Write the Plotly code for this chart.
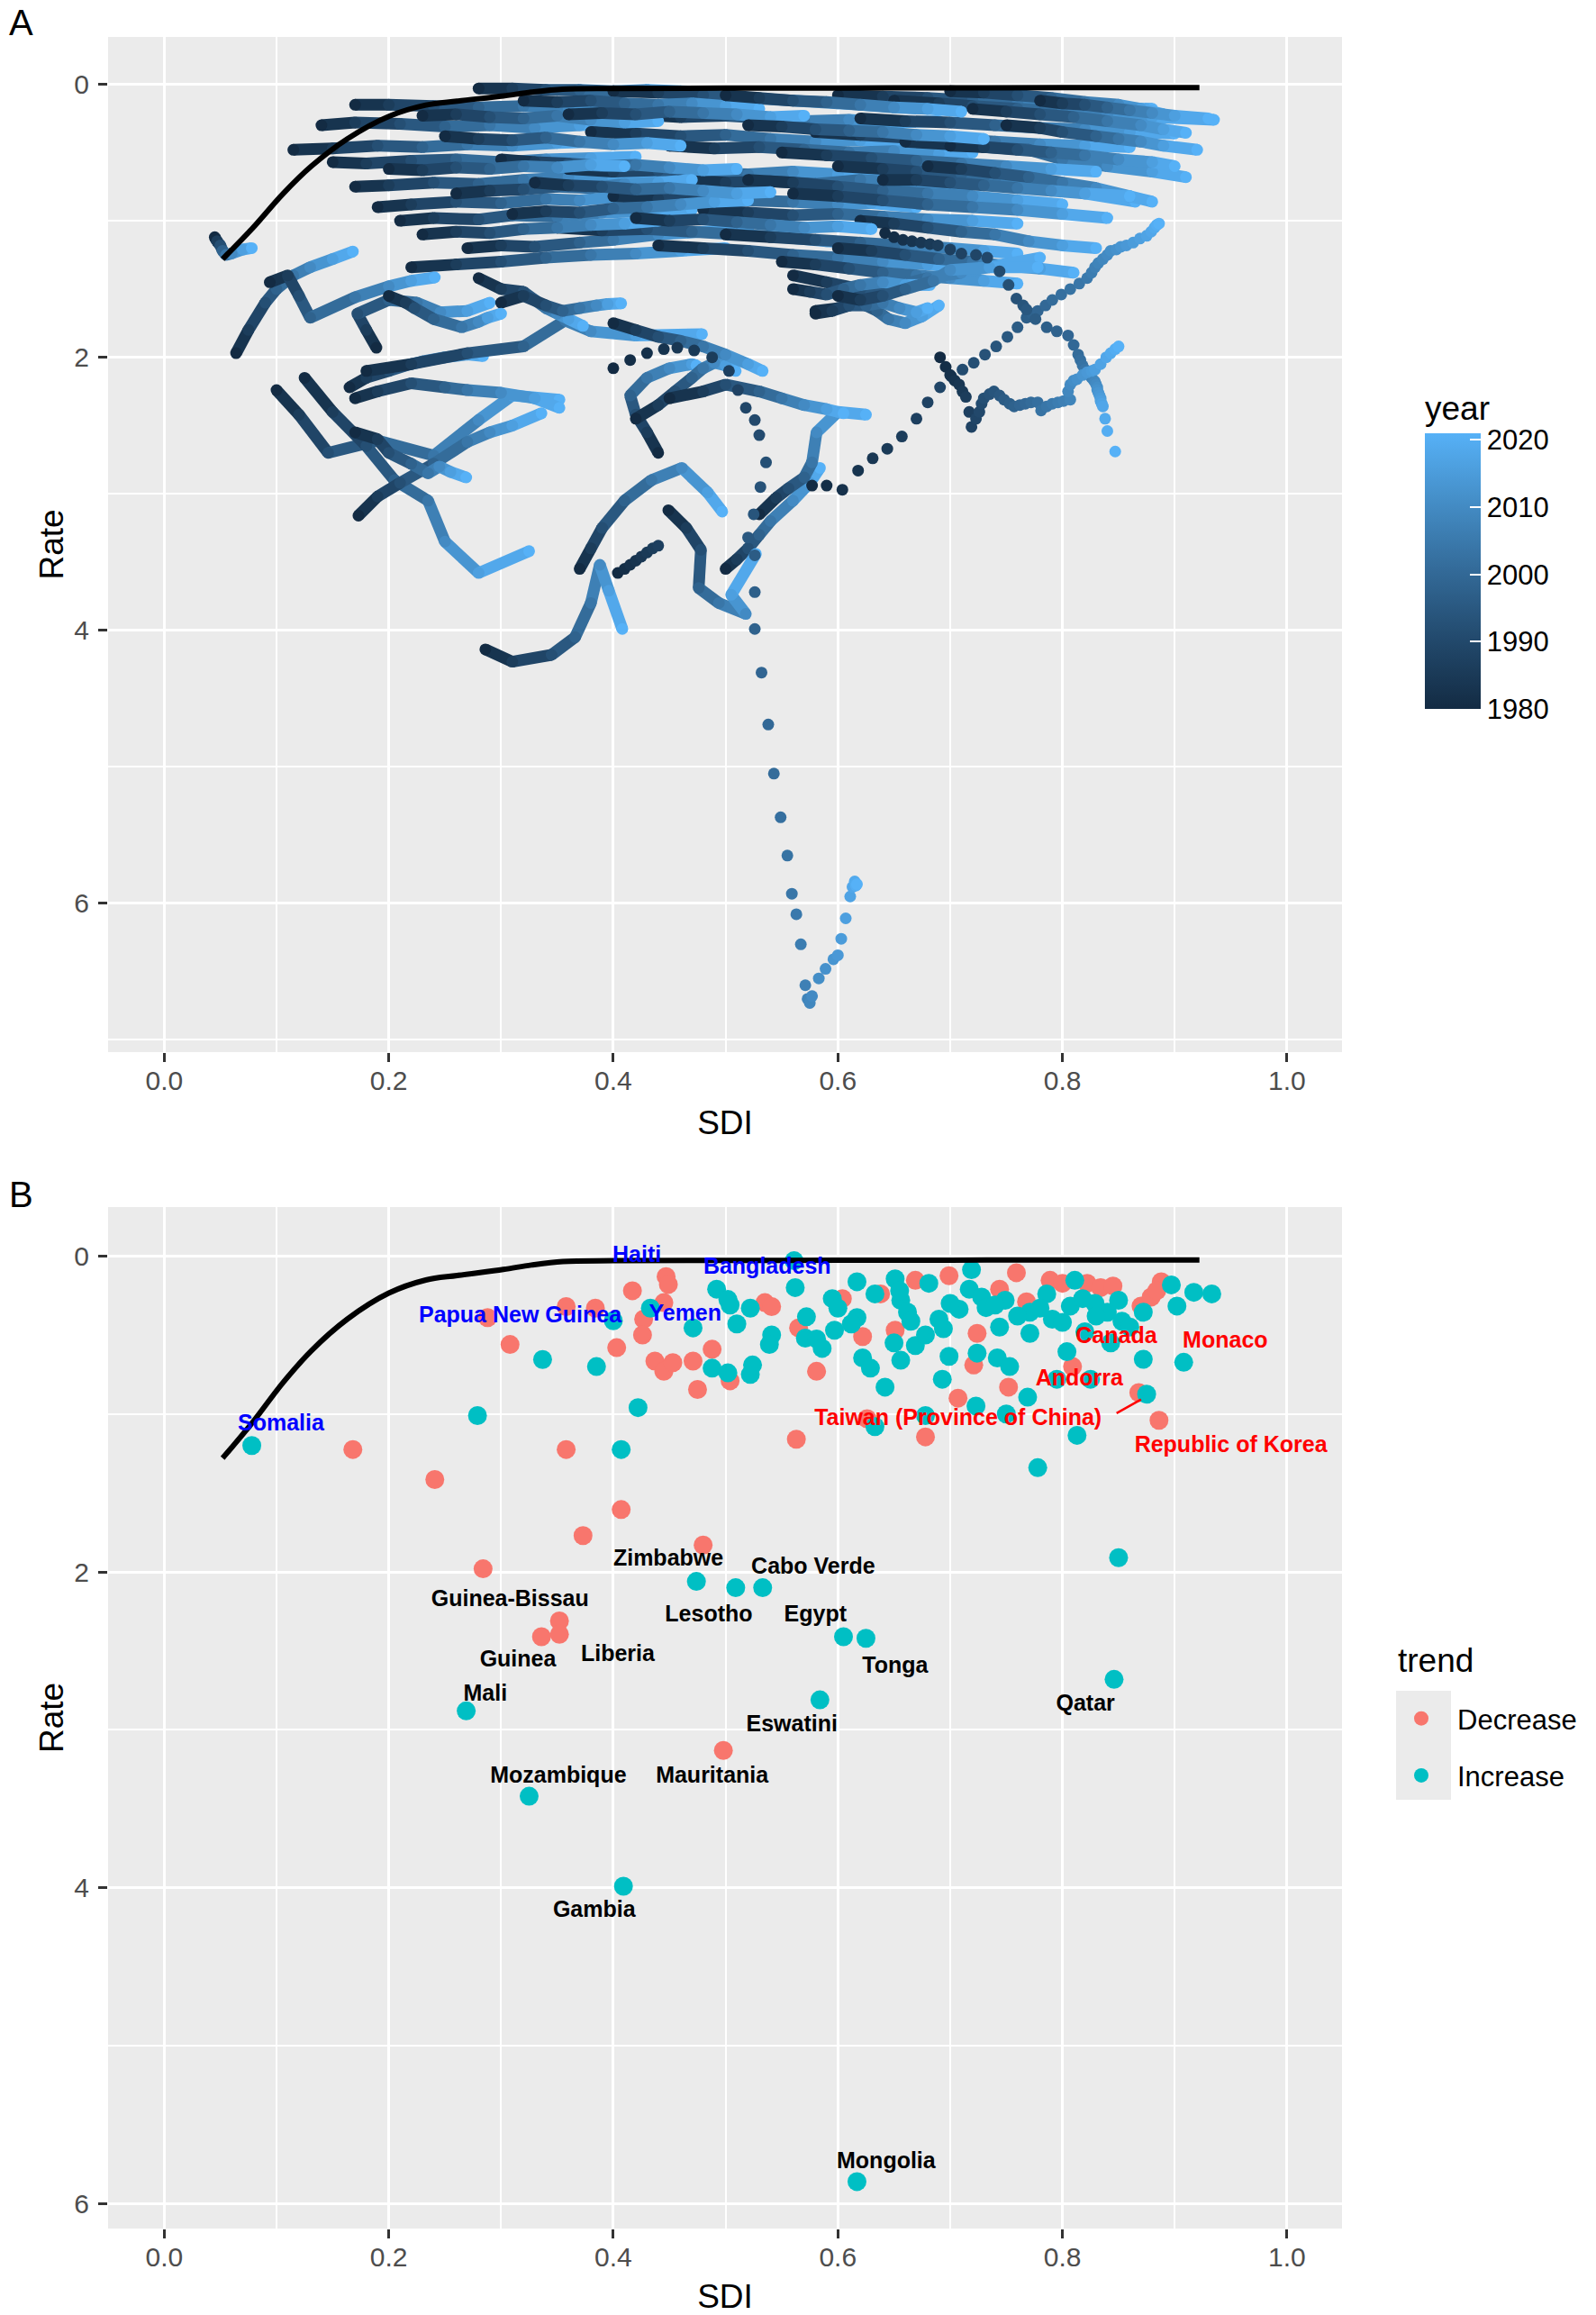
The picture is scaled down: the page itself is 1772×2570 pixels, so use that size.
import plotly.graph_objects as go
from plotly.colors import sample_colorscale

FONT = "Liberation Sans, Arial, sans-serif"

# ---------------- panel A : SDI / rate trajectories, 1980-2021 ----------------
KEY_YEARS = [1980, 1986, 1992, 1998, 2004, 2010, 2016, 2021]

# trajectories read at the key years (dense ones, drawn as a ribbon)
LINE_SDI = [
    [.28, .31, .34, .37, .40, .43, .46, .49],
    [.17, .20, .24, .28, .32, .36, .40, .45],
    [.14, .17, .21, .25, .29, .33, .37, .41],
    [.115, .15, .19, .23, .27, .31, .35, .39],
    [.15, .18, .22, .26, .30, .34, .38, .42],
    [.17, .20, .24, .28, .32, .36, .40, .44],
    [.19, .22, .26, .30, .34, .37, .41, .45],
    [.21, .24, .28, .31, .35, .39, .43, .47],
    [.22, .26, .30, .34, .38, .42, .46, .50],
    [.27, .30, .33, .37, .40, .44, .48, .52],
    [.40, .44, .48, .52, .56, .60, .64, .68],
    [.42, .46, .50, .54, .57, .61, .65, .69],
    [.38, .42, .46, .50, .54, .58, .62, .66],
    [.45, .49, .53, .57, .61, .65, .69, .72],
    [.36, .40, .44, .48, .52, .56, .60, .64],
    [.46, .50, .54, .58, .62, .66, .70, .74],
    [.40, .44, .48, .52, .56, .60, .63, .67],
    [.48, .52, .56, .60, .64, .68, .72, .76],
    [.35, .39, .43, .47, .51, .55, .59, .62],
    [.50, .54, .58, .62, .66, .70, .73, .76],
    [.60, .64, .68, .72, .76, .80, .84, .88],
    [.65, .69, .72, .76, .80, .84, .88, .935],
    [.62, .66, .70, .74, .78, .82, .86, .90],
    [.58, .62, .66, .70, .74, .78, .82, .86],
    [.66, .70, .73, .77, .80, .84, .88, .91],
    [.55, .59, .63, .67, .71, .75, .79, .83],
    [.60, .64, .67, .71, .74, .78, .82, .865],
    [.52, .56, .60, .64, .68, .72, .76, .80],
    [.56, .60, .64, .68, .72, .76, .80, .84],
    [.70, .73, .76, .79, .82, .85, .87, .89],
    [.72, .75, .78, .81, .84, .87, .89, .91],
    [.44, .48, .52, .56, .60, .64, .68, .72],
    [.62, .65, .68, .71, .74, .77, .80, .83],
    [.55, .58, .61, .64, .67, .70, .73, .76],
    [.30, .33, .36, .39, .42, .45, .48, .51],
    [.25, .28, .31, .34, .37, .40, .43, .46],
    [.23, .26, .29, .32, .35, .38, .41, .44],
    [.32, .35, .38, .41, .44, .47, .50, .53],
    [.50, .53, .56, .59, .62, .65, .68, .71],
    [.26, .29, .32, .35, .38, .41, .44, .47],
    [.31, .34, .37, .40, .43, .46, .49, .52],
    [.68, .71, .74, .77, .80, .83, .86, .88],
    [.75, .78, .80, .83, .85, .87, .89, .92],
    [.78, .80, .82, .84, .86, .88, .90, .93],
    [.60, .63, .66, .69, .72, .75, .78, .81],
    [.58, .60, .62, .635, .645, .66, .675, .69],
    [.56, .59, .62, .65, .68, .71, .74, .78],
    [.20, .23, .26, .29, .32, .35, .38, .41],
    [.23, .26, .29, .32, .35, .38, .41, .44],
    [.64, .67, .70, .73, .76, .79, .82, .86],
    [.70, .73, .76, .79, .82, .85, .88, .90],
    [.36, .39, .42, .45, .48, .51, .54, .57],
    [.52, .55, .58, .61, .64, .67, .70, .73],
    [.42, .45, .48, .51, .54, .57, .60, .63],
    [.33, .36, .39, .42, .45, .48, .51, .54],
    # lower, sparser countries
    [.045, .047, .05, .052, .055, .06, .07, .078],
    [.064, .075, .09, .10, .115, .13, .15, .168],
    [.094, .11, .12, .13, .17, .20, .22, .241],
    [.189, .18, .172, .20, .225, .246, .27, .29],
    [.10, .12, .146, .19, .24, .28, .31, .352],
    [.125, .15, .18, .205, .235, .25, .28, .325],
    [.173, .19, .21, .24, .27, .29, .31, .336],
    [.17, .19, .22, .25, .27, .30, .33, .352],
    [.165, .18, .20, .215, .23, .25, .27, .284],
    [.17, .19, .20, .22, .235, .245, .255, .269],
    [.18, .22, .27, .32, .357, .38, .42, .479],
    [.28, .30, .32, .33, .34, .35, .36, .373],
    [.30, .32, .34, .355, .37, .385, .395, .407],
    [.44, .43, .42, .415, .43, .45, .47, .474],
    [.42, .44, .455, .47, .48, .49, .50, .509],
    [.40, .42, .44, .46, .48, .50, .52, .533],
    [.37, .38, .39, .41, .434, .461, .484, .497],
    [.286, .31, .345, .366, .38, .388, .396, .408],
    [.50, .51, .52, .53, .54, .56, .575, .584],
    [.53, .545, .556, .57, .577, .581, .60, .625],
    [.45, .48, .50, .53, .55, .57, .59, .605],
    [.449, .465, .478, .476, .494, .518, .505, .527],
    [.58, .595, .61, .625, .64, .655, .67, .68],
    [.56, .575, .59, .605, .62, .64, .66, .682],
    [.60, .62, .64, .66, .685, .70, .735, .778],
    [.20, .215, .223, .24, .265, .28, .288, .30],
]
LINE_RATE = [
    [.03, .03, .04, .04, .05, .04, .05, .06],
    [.15, .15, .16, .17, .16, .17, .18, .17],
    [.30, .28, .29, .31, .30, .32, .30, .29],
    [.48, .47, .45, .46, .44, .45, .43, .42],
    [.57, .58, .56, .55, .57, .55, .54, .53],
    [.75, .74, .72, .73, .70, .68, .69, .66],
    [.90, .88, .86, .87, .84, .85, .82, .80],
    [1.00, .98, .99, .96, .97, .94, .93, .92],
    [1.34, 1.32, 1.30, 1.27, 1.25, 1.24, 1.22, 1.20],
    [1.20, 1.18, 1.19, 1.16, 1.14, 1.10, 1.08, 1.06],
    [.05, .06, .08, .10, .12, .14, .16, .18],
    [.22, .24, .23, .25, .27, .26, .28, .27],
    [.35, .36, .38, .37, .40, .42, .41, .43],
    [.45, .47, .46, .48, .50, .49, .51, .50],
    [.62, .64, .63, .65, .66, .64, .66, .68],
    [.70, .72, .71, .73, .70, .72, .74, .73],
    [.82, .84, .83, .85, .86, .88, .87, .90],
    [.92, .94, .96, .95, .97, .99, 1.00, 1.02],
    [1.05, 1.07, 1.06, 1.08, 1.10, 1.12, 1.15, 1.17],
    [1.10, 1.12, 1.14, 1.16, 1.18, 1.20, 1.22, 1.24],
    [.08, .09, .10, .12, .14, .15, .17, .18],
    [.12, .14, .16, .18, .20, .22, .24, .26],
    [.25, .27, .28, .30, .32, .33, .35, .36],
    [.35, .37, .39, .40, .42, .44, .45, .46],
    [.42, .44, .46, .48, .55, .60, .64, .68],
    [.50, .52, .54, .56, .58, .60, .62, .64],
    [.60, .62, .64, .66, .70, .74, .80, .86],
    [.70, .72, .75, .78, .80, .82, .85, .88],
    [.80, .82, .85, .88, .90, .92, .95, .98],
    [.05, .06, .08, .10, .13, .15, .18, .22],
    [.18, .20, .22, .24, .27, .30, .33, .355],
    [1.18, 1.20, 1.22, 1.25, 1.27, 1.30, 1.32, 1.35],
    [1.00, 1.02, 1.05, 1.08, 1.10, 1.15, 1.18, 1.20],
    [1.30, 1.32, 1.35, 1.38, 1.40, 1.42, 1.44, 1.46],
    [.55, .57, .58, .60, .59, .61, .63, .62],
    [.38, .40, .41, .39, .42, .44, .43, .45],
    [.23, .22, .24, .25, .23, .26, .28, .27],
    [.12, .13, .12, .14, .15, .14, .16, .18],
    [.08, .10, .12, .13, .15, .17, .18, .20],
    [.80, .78, .77, .75, .76, .73, .72, .70],
    [.95, .93, .94, .91, .90, .88, .86, .85],
    [.60, .62, .65, .68, .72, .76, .82, .86],
    [.30, .32, .35, .38, .40, .42, .45, .48],
    [.12, .14, .15, .17, .19, .21, .23, .25],
    [1.20, 1.22, 1.25, 1.28, 1.30, 1.33, 1.35, 1.38],
    [1.66, 1.64, 1.60, 1.66, 1.72, 1.75, 1.70, 1.62],
    [1.40, 1.45, 1.50, 1.48, 1.42, 1.38, 1.33, 1.27],
    [.62, .63, .61, .62, .60, .61, .59, .60],
    [1.10, 1.08, 1.09, 1.06, 1.05, 1.03, 1.02, 1.00],
    [.70, .70, .72, .74, .76, .78, .80, .82],
    [.45, .46, .48, .50, .52, .55, .57, .60],
    [.22, .21, .22, .20, .21, .22, .24, .23],
    [.30, .31, .33, .34, .35, .37, .38, .40],
    [.98, 1.00, .99, 1.01, 1.03, 1.05, 1.04, 1.06],
    [.72, .74, .75, .77, .76, .78, .80, .79],
    [1.12, 1.15, 1.18, 1.22, 1.25, 1.24, 1.21, 1.20],
    [1.97, 1.80, 1.60, 1.50, 1.40, 1.34, 1.28, 1.225],
    [1.45, 1.40, 1.55, 1.71, 1.56, 1.48, 1.44, 1.415],
    [1.93, 1.80, 1.68, 1.58, 1.60, 1.67, 1.66, 1.60],
    [2.24, 2.42, 2.70, 2.61, 2.72, 2.46, 2.28, 2.31],
    [2.15, 2.40, 2.65, 2.90, 3.05, 3.35, 3.58, 3.42],
    [3.16, 3.02, 2.92, 2.78, 2.62, 2.55, 2.50, 2.41],
    [2.30, 2.25, 2.19, 2.22, 2.24, 2.26, 2.30, 2.37],
    [2.22, 2.15, 2.10, 2.06, 2.03, 2.00, 1.98, 1.99],
    [2.55, 2.60, 2.70, 2.78, 2.85, 2.80, 2.84, 2.88],
    [2.10, 2.05, 1.97, 1.92, 1.73, 1.81, 1.84, 1.83],
    [1.42, 1.50, 1.52, 1.58, 1.64, 1.68, 1.72, 1.77],
    [1.60, 1.55, 1.62, 1.66, 1.64, 1.62, 1.61, 1.605],
    [2.70, 2.55, 2.42, 2.28, 2.15, 2.08, 2.05, 2.06],
    [2.45, 2.35, 2.25, 2.15, 2.08, 2.04, 2.06, 2.10],
    [1.75, 1.80, 1.85, 1.88, 1.92, 1.98, 2.05, 2.10],
    [3.55, 3.40, 3.25, 3.05, 2.90, 2.81, 2.99, 3.13],
    [4.14, 4.23, 4.18, 4.05, 3.80, 3.52, 3.71, 3.99],
    [3.55, 3.48, 3.40, 3.30, 3.20, 3.05, 2.92, 2.81],
    [3.15, 3.03, 2.96, 2.88, 2.77, 2.55, 2.40, 2.42],
    [2.30, 2.25, 2.20, 2.25, 2.30, 2.35, 2.38, 2.41],
    [3.12, 3.25, 3.41, 3.69, 3.80, 3.88, 3.74, 3.44],
    [1.68, 1.66, 1.62, 1.62, 1.60, 1.64, 1.67, 1.64],
    [1.50, 1.52, 1.54, 1.50, 1.47, 1.45, 1.47, 1.47],
    [1.55, 1.58, 1.55, 1.50, 1.44, 1.36, 1.34, 1.34],
    [1.55, 1.60, 1.64, 1.72, 1.78, 1.74, 1.71, 1.68],
]

# countries with big yearly jumps: every yearly dot read separately
ALL_YEARS = list(range(1980, 2022))
DOT_YEARS = [ALL_YEARS, ALL_YEARS, ALL_YEARS, ALL_YEARS,
             [1980, 1981, 1982, 1983, 1984, 1985, 1986, 1987]]
DOT_SDI = [
    # Mongolia
    [.400, .415, .430, .445, .457, .472, .488, .503, .511, .518, .526, .530, .536, .531,
     .525, .520, .526, .526, .526, .532, .538, .543, .549, .555, .559, .563, .567, .571,
     .573, .575, .577, .583, .589, .596, .600, .603, .607, .611, .613, .615, .616, .617],
    # long diagonal
    [.577, .590, .604, .618, .631, .644, .657, .670, .680, .691, .701, .711, .721, .731,
     .741, .751, .760, .768, .773, .778, .785, .791, .799, .807, .815, .822, .826, .829,
     .832, .836, .840, .843, .848, .852, .857, .863, .869, .875, .879, .882, .884, .886],
    # Qatar
    [.642, .650, .658, .666, .674, .682, .689, .700, .710, .723, .733, .744, .752, .759,
     .765, .768, .776, .786, .795, .805, .810, .814, .816, .818, .820, .822, .824, .826,
     .828, .829, .830, .831, .831, .832, .833, .834, .834, .835, .836, .838, .840, .847],
    # wavy line joining the upper arm
    [.691, .696, .700, .704, .708, .711, .714, .717, .719, .723, .726, .728, .730, .735,
     .739, .744, .748, .753, .757, .762, .767, .772, .778, .781, .786, .791, .796, .801,
     .807, .805, .807, .810, .813, .818, .822, .826, .829, .834, .839, .843, .847, .850],
    [.404, .410, .415, .420, .425, .430, .435, .440],
]
DOT_RATE = [
    [2.08, 2.02, 1.97, 1.94, 1.93, 1.95, 2.00, 2.10, 2.24, 2.37, 2.46, 2.57, 2.77, 2.95,
     3.15, 3.32, 3.45, 3.72, 3.99, 4.31, 4.69, 5.05, 5.37, 5.65, 5.93, 6.08, 6.30, 6.60,
     6.70, 6.73, 6.68, 6.55, 6.48, 6.41, 6.38, 6.26, 6.11, 5.95, 5.88, 5.84, 5.87, 5.86],
    [2.94, 2.94, 2.97, 2.83, 2.74, 2.67, 2.58, 2.45, 2.33, 2.22, 2.14, 2.09, 2.04, 1.98,
     1.92, 1.85, 1.78, 1.71, 1.68, 1.66, 1.62, 1.58, 1.54, 1.50, 1.46, 1.42, 1.38, 1.34,
     1.31, 1.28, 1.25, 1.22, 1.21, 1.19, 1.18, 1.16, 1.13, 1.11, 1.08, 1.05, 1.03, 1.02],
    [1.09, 1.12, 1.14, 1.15, 1.16, 1.17, 1.18, 1.21, 1.24, 1.25, 1.27, 1.37, 1.47, 1.57,
     1.62, 1.65, 1.72, 1.78, 1.81, 1.84, 1.91, 1.98, 2.02, 2.06, 2.09, 2.11, 2.13, 2.15,
     2.17, 2.18, 2.20, 2.22, 2.24, 2.26, 2.28, 2.30, 2.32, 2.34, 2.36, 2.45, 2.54, 2.69],
    [2.00, 2.07, 2.13, 2.17, 2.20, 2.25, 2.29, 2.40, 2.51, 2.45, 2.40, 2.34, 2.30, 2.27,
     2.25, 2.28, 2.31, 2.34, 2.36, 2.35, 2.34, 2.33, 2.33, 2.39, 2.36, 2.34, 2.33, 2.32,
     2.31, 2.25, 2.20, 2.17, 2.16, 2.13, 2.11, 2.10, 2.09, 2.05, 2.00, 1.97, 1.94, 1.92],
    [3.58, 3.55, 3.52, 3.49, 3.46, 3.43, 3.40, 3.38],
]

# frontier (black curve, both panels)
FRONTIER_SDI = [0.052, 0.078, 0.106, 0.131, 0.163, 0.200, 0.233, 0.261, 0.302, 0.327,
                0.355, 0.400, 0.500, 0.600, 0.700, 0.800, 0.922]
FRONTIER_RATE = [1.28, 1.06, 0.80, 0.60, 0.40, 0.235, 0.152, 0.123, 0.085, 0.057,
                 0.035, 0.030, 0.028, 0.027, 0.026, 0.025, 0.025]

# ---------------- panel B : 2021 values ----------------
DEC_SDI = [0.168, 0.241, 0.284, 0.288, 0.308, 0.358, 0.358, 0.373, 0.384, 0.403,
           0.407, 0.417, 0.427, 0.426, 0.445, 0.447, 0.449, 0.437, 0.445, 0.453,
           0.471, 0.475, 0.480, 0.488, 0.504, 0.535, 0.541, 0.565, 0.563, 0.581,
           0.604, 0.622, 0.638, 0.626, 0.669, 0.651, 0.678, 0.699, 0.759, 0.744,
           0.724, 0.721, 0.752, 0.707, 0.768, 0.789, 0.800, 0.822, 0.834, 0.845,
           0.809, 0.870, 0.879, 0.888, 0.884, 0.868, 0.886, 0.352, 0.352, 0.336,
           0.498]
DEC_RATE = [1.225, 1.415, 1.98, 0.39, 0.56, 0.32, 1.225, 1.77, 0.33, 0.58,
            1.605, 0.22, 0.40, 0.50, 0.295, 0.13, 0.18, 0.665, 0.73, 0.675,
            0.665, 0.845, 1.83, 0.59, 0.79, 0.295, 0.32, 0.455, 1.16, 0.73,
            0.27, 0.51, 0.24, 1.03, 0.154, 0.47, 1.145, 0.125, 0.106, 0.21,
            0.49, 0.69, 0.83, 0.90, 0.29, 0.154, 0.173, 0.173, 0.20, 0.19,
            0.70, 0.317, 0.26, 0.163, 0.22, 0.865, 1.04, 2.31, 2.395, 2.41,
            3.13]
INC_SDI = [0.078, 0.279, 0.337, 0.385, 0.400, 0.407, 0.422, 0.433, 0.471, 0.474,
           0.488, 0.492, 0.502, 0.504, 0.510, 0.502, 0.522, 0.522, 0.524, 0.541,
           0.539, 0.562, 0.561, 0.571, 0.572, 0.581, 0.586, 0.595, 0.617, 0.617,
           0.597, 0.622, 0.629, 0.642, 0.633, 0.633, 0.651, 0.681, 0.656, 0.662,
           0.665, 0.650, 0.656, 0.669, 0.678, 0.694, 0.699, 0.693, 0.678, 0.719,
           0.708, 0.717, 0.728, 0.732, 0.749, 0.744, 0.724, 0.742, 0.753, 0.723,
           0.750, 0.769, 0.778, 0.771, 0.771, 0.811, 0.786, 0.791, 0.807, 0.818,
           0.829, 0.840, 0.850, 0.853, 0.843, 0.804, 0.795, 0.825, 0.872, 0.872,
           0.897, 0.902, 0.917, 0.933, 0.908, 0.875, 0.813, 0.850, 0.509, 0.533,
           0.605, 0.625, 0.269, 0.584, 0.325, 0.409, 0.846, 0.617, 0.700, 0.760,
           0.780, 0.800, 0.830, 0.860, 0.820, 0.740, 0.690, 0.655, 0.600, 0.612]
INC_RATE = [1.20, 1.01, 0.655, 0.70, 0.41, 1.225, 0.96, 0.33, 0.455, 2.06,
            0.71, 0.21, 0.275, 0.31, 0.43, 0.74, 0.33, 0.75, 0.69, 0.50,
            0.56, 0.20, 0.03, 0.52, 0.385, 0.525, 0.585, 0.27, 0.163, 0.39,
            0.47, 0.645, 0.71, 0.83, 0.24, 1.08, 0.145, 0.173, 0.28, 0.356,
            0.413, 0.55, 0.66, 0.567, 0.50, 0.46, 0.635, 0.78, 1.01, 0.087,
            0.337, 0.21, 0.26, 0.327, 0.28, 0.45, 0.615, 0.645, 0.70, 0.95,
            1.00, 0.894, 1.34, 0.356, 0.49, 0.154, 0.24, 0.40, 0.317, 0.27,
            0.30, 0.356, 0.28, 0.413, 0.55, 0.606, 0.78, 0.78, 0.654, 0.356,
            0.183, 0.317, 0.23, 0.24, 0.673, 0.875, 1.135, 1.91, 2.10, 2.10,
            2.41, 2.42, 2.88, 2.81, 3.42, 3.99, 2.68, 5.86, 0.30, 0.38,
            0.33, 0.42, 0.38, 0.45, 0.48, 0.31, 0.40, 0.22, 0.33, 0.43]

LABEL_TEXT = ["Haiti", "Bangladesh", "Papua New Guinea", "Yemen", "Somalia",
              "Canada", "Monaco", "Andorra", "Taiwan (Province of China)", "Republic of Korea",
              "Zimbabwe", "Cabo Verde", "Guinea-Bissau", "Lesotho", "Egypt",
              "Guinea", "Liberia", "Tonga", "Mali", "Qatar",
              "Eswatini", "Mozambique", "Mauritania", "Gambia", "Mongolia"]
LABEL_SDI = [0.421, 0.537, 0.317, 0.464, 0.104,
             0.848, 0.945, 0.815, 0.707, 0.950,
             0.449, 0.578, 0.308, 0.485, 0.580,
             0.315, 0.404, 0.651, 0.286, 0.8205,
             0.559, 0.351, 0.488, 0.383, 0.643]
LABEL_RATE = [0.0, 0.076, 0.386, 0.374, 1.07,
              0.513, 0.544, 0.783, 1.035, 1.206,
              1.924, 1.977, 2.18, 2.276, 2.28,
              2.56, 2.53, 2.60, 2.78, 2.845,
              2.976, 3.30, 3.297, 4.15, 5.74]
LABEL_COLOR = ["#0000FF"] * 5 + ["#FF0000"] * 5 + ["#000000"] * 15

# ---------------- figure ----------------
W, H = 1772, 2570
SCALE = [[0.0, "#132B43"], [0.25, "#22496C"], [0.5, "#336A98"],
         [0.75, "#448DC6"], [1.0, "#56B1F7"]]
Y0, Y1 = 1980, 2021

fig = go.Figure()

# one country after another, as ggplot draws its rows: segments, then its dots
seg_colors = [sample_colorscale(SCALE, ((a + b) / 2 - Y0) / (Y1 - Y0))[0]
              for a, b in zip(KEY_YEARS[:-1], KEY_YEARS[1:])]
for sdi, rate in zip(LINE_SDI, LINE_RATE):
    for i, col in enumerate(seg_colors):
        fig.add_trace(go.Scatter(x=sdi[i:i + 2], y=rate[i:i + 2], mode="lines",
                                 line=dict(color=col, width=13), xaxis="x", yaxis="y",
                                 showlegend=False, hoverinfo="skip"))
    fig.add_trace(go.Scatter(x=sdi, y=rate, mode="markers",
                             marker=dict(size=13, color=KEY_YEARS, coloraxis="coloraxis"),
                             xaxis="x", yaxis="y", showlegend=False))

for sdi, rate, yrs in zip(DOT_SDI, DOT_RATE, DOT_YEARS):
    fig.add_trace(go.Scatter(x=sdi, y=rate, mode="markers",
                             marker=dict(size=13, color=yrs, coloraxis="coloraxis"),
                             xaxis="x", yaxis="y", showlegend=False))

fig.add_trace(go.Scatter(x=FRONTIER_SDI, y=FRONTIER_RATE, mode="lines",
                         line=dict(color="black", width=6, shape="spline"),
                         xaxis="x", yaxis="y", showlegend=False))

# panel B
fig.add_trace(go.Scatter(x=DEC_SDI, y=DEC_RATE, mode="markers", name="Decrease",
                         legendgroup="d", marker=dict(size=21, color="#F8766D"),
                         xaxis="x2", yaxis="y2"))
fig.add_trace(go.Scatter(x=INC_SDI, y=INC_RATE, mode="markers", name="Increase",
                         legendgroup="i", marker=dict(size=21, color="#00BFC4"),
                         xaxis="x2", yaxis="y2"))
fig.add_trace(go.Scatter(x=FRONTIER_SDI, y=FRONTIER_RATE, mode="lines",
                         line=dict(color="black", width=6, shape="spline"),
                         xaxis="x2", yaxis="y2", showlegend=False))
fig.add_trace(go.Scatter(x=LABEL_SDI, y=LABEL_RATE, mode="text", text=LABEL_TEXT,
                         textposition="middle center",
                         textfont=dict(family=FONT, size=25, color=LABEL_COLOR, weight="bold"),
                         xaxis="x2", yaxis="y2", showlegend=False))

tick_font = dict(family=FONT, size=30, color="#4D4D4D")
title_font = dict(family=FONT, size=37, color="black")


def x_axis(anchor):
    return dict(domain=[120 / W, 1490 / W], anchor=anchor, range=[-0.05, 1.049],
                tick0=0, dtick=0.2, tickformat=".1f", showgrid=True, gridcolor="white",
                gridwidth=3.3, minor=dict(dtick=0.1, showgrid=True, gridcolor="white",
                                          gridwidth=1.7),
                zeroline=False, showline=False, ticks="outside", ticklen=10, tickwidth=2.5,
                tickcolor="#333333", tickfont=tick_font, ticklabelstandoff=-5,
                title=dict(text="SDI", font=title_font, standoff=18))


def y_axis(top, bottom, anchor, rng):
    return dict(domain=[1 - bottom / H, 1 - top / H], anchor=anchor, range=rng,
                tick0=0, dtick=2, showgrid=True, gridcolor="white", gridwidth=3.3,
                minor=dict(dtick=1, showgrid=True, gridcolor="white", gridwidth=1.7),
                zeroline=False, showline=False, ticks="outside", ticklen=10, tickwidth=2.5,
                tickcolor="#333333", tickfont=tick_font, ticklabelstandoff=4,
                title=dict(text="Rate", font=title_font, standoff=0))


fig.update_layout(
    width=W, height=H, margin=dict(l=0, r=0, t=0, b=0),
    paper_bgcolor="white", plot_bgcolor="#EBEBEB",
    font=dict(family=FONT, color="black"),
    xaxis=x_axis("y"), yaxis=y_axis(41, 1168, "x", [7.09, -0.347]),
    xaxis2=x_axis("y2"), yaxis2=y_axis(1340, 2474, "x2", [6.157, -0.31]),
    coloraxis=dict(
        colorscale=SCALE, cmin=Y0, cmax=Y1,
        colorbar=dict(title=dict(text="year", side="top", font=dict(size=37, family=FONT)),
                      x=1582 / W, xanchor="left", xpad=0,
                      y=1 - 435 / H, yanchor="top", ypad=0,
                      lenmode="pixels", len=352, thickness=62, outlinewidth=0,
                      tickvals=[1980, 1990, 2000, 2010, 2020], ticks="inside",
                      ticklen=12, tickwidth=2, tickcolor="white",
                      tickfont=dict(size=31, family=FONT, color="black"))),
    legend=dict(x=1538 / W, xanchor="left", y=1 - 1881 / H, yanchor="top",
                font=dict(size=31, family=FONT, color="black"),
                bgcolor="rgba(0,0,0,0)", itemwidth=70, tracegroupgap=20),
    shapes=[dict(type="rect", xref="paper", yref="paper", layer="below",
                 x0=1550 / W, x1=1611 / W, y0=1 - 1998 / H, y1=1 - 1877 / H,
                 fillcolor="#EBEBEB", line=dict(width=0))],
    annotations=[
        dict(text="A", x=23 / W, y=1 - 25 / H, xref="paper", yref="paper",
             xanchor="center", yanchor="middle",
             showarrow=False, font=dict(size=40, family=FONT)),
        dict(text="B", x=23 / W, y=1 - 1326 / H, xref="paper", yref="paper",
             xanchor="center", yanchor="middle",
             showarrow=False, font=dict(size=40, family=FONT)),
        dict(text="trend", x=1550 / W, y=1 - 1843 / H, xref="paper", yref="paper",
             xanchor="left", yanchor="middle",
             showarrow=False, font=dict(size=37, family=FONT)),
        dict(text="", x=0.870, y=0.908, xref="x2", yref="y2", ax=0.847, ay=1.0,
             axref="x2", ayref="y2", showarrow=True, arrowhead=0, arrowwidth=2.5,
             arrowcolor="#FF0000"),
    ],
)

# page body without the default 8px margin so the figure fills the window
fig.write_html("out.html", config={"displayModeBar": False},
               post_script="document.body.style.margin='0';")
